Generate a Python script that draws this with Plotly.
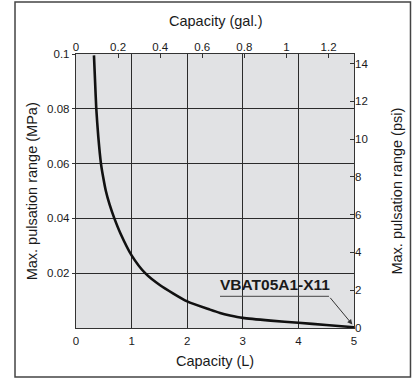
import plotly.graph_objects as go

# Data
capacity_l = [0.323, 0.343, 0.365, 0.40, 0.449, 0.489, 0.537, 0.605, 0.69, 0.80, 1.0,
              1.244, 1.513, 2.0, 2.41, 2.59, 2.77, 3.0, 3.5, 4.0, 4.5, 5.0]
pulsation_mpa = [0.0995, 0.09, 0.08, 0.07, 0.06, 0.055, 0.05, 0.045, 0.04, 0.0345, 0.0265,
                 0.02, 0.0156, 0.0097, 0.0067, 0.0055, 0.0046, 0.0037, 0.0027, 0.0019, 0.0011, 0.0003]

x_ticks_l = [0, 1, 2, 3, 4, 5]
x_ticks_gal = [0, 0.2, 0.4, 0.6, 0.8, 1.0, 1.2]
x_ticktext_gal = ["0", "0.2", "0.4", "0.6", "0.8", "1", "1.2"]
y_ticks_mpa = [0.02, 0.04, 0.06, 0.08, 0.1]
y_ticktext_mpa = ["0.02", "0.04", "0.06", "0.08", "0.1"]
y_ticks_psi = [0, 2, 4, 6, 8, 10, 12, 14]

L_PER_GAL = 3.785
PSI_PER_MPA = 145.04
X_MAX = 5
Y_MAX = 0.1

FONT = "Liberation Sans, Arial, Helvetica, sans-serif"
TXT = "#1a1a1a"
GRID = "#2b2b2b"

fig = go.Figure()
fig.add_trace(go.Scatter(
    x=capacity_l, y=pulsation_mpa, mode="lines",
    line=dict(color="#111111", width=2.6, shape="spline", smoothing=0.6),
    hoverinfo="skip", showlegend=False,
))
# invisible traces to activate secondary axes
fig.add_trace(go.Scatter(x=[0], y=[0], xaxis="x2", yaxis="y", mode="markers",
                         marker=dict(opacity=0), showlegend=False, hoverinfo="skip"))
fig.add_trace(go.Scatter(x=[0], y=[0], xaxis="x", yaxis="y2", mode="markers",
                         marker=dict(opacity=0), showlegend=False, hoverinfo="skip"))

tickfont = dict(family=FONT, size=11.5, color=TXT)

fig.update_layout(
    width=417, height=379,
    margin=dict(l=76, r=63, t=54, b=51),
    paper_bgcolor="white",
    plot_bgcolor="#e1e2e4",
    showlegend=False,
    xaxis=dict(
        range=[0, X_MAX], tickvals=x_ticks_l, ticks="", showgrid=True,
        gridcolor=GRID, gridwidth=1.2, zeroline=False,
        showline=True, linecolor="#333333", linewidth=1.4, mirror=True,
        tickfont=tickfont, ticklabelstandoff=2,
    ),
    xaxis2=dict(
        range=[0, X_MAX / L_PER_GAL], overlaying="x", side="top",
        tickvals=x_ticks_gal, ticktext=x_ticktext_gal,
        ticks="inside", ticklen=4, tickcolor="#333333", tickwidth=1,
        showgrid=False, zeroline=False, showline=False,
        tickfont=tickfont,
    ),
    yaxis=dict(
        range=[0, Y_MAX], tickvals=y_ticks_mpa, ticktext=y_ticktext_mpa,
        ticks="outside", ticklen=3, tickcolor="#333333",
        showgrid=True, gridcolor=GRID, gridwidth=1.2, zeroline=False,
        showline=True, linecolor="#333333", linewidth=1.4, mirror=True,
        tickfont=tickfont,
    ),
    yaxis2=dict(
        range=[0, Y_MAX * PSI_PER_MPA], overlaying="y", side="right",
        tickvals=y_ticks_psi, ticks="inside", ticklen=4, tickcolor="#333333",
        showgrid=False, zeroline=False, showline=False,
        tickfont=tickfont,
    ),
)

titlefont = dict(family=FONT, size=14.5, color=TXT)
# axis titles as annotations (paper coordinates)
fig.add_annotation(text="Capacity (L)", xref="paper", yref="paper", x=0.5, y=-0.12,
                   xanchor="center", yanchor="middle", showarrow=False, font=titlefont)
fig.add_annotation(text="Capacity (gal.)", xref="paper", yref="paper", x=0.5, y=1.12,
                   xanchor="center", yanchor="middle", showarrow=False, font=titlefont)
fig.add_annotation(text="Max. pulsation range (MPa)", xref="paper", yref="paper",
                   x=-0.157, y=0.5, xanchor="center", yanchor="middle",
                   textangle=-90, showarrow=False, font=titlefont)
fig.add_annotation(text="Max. pulsation range (psi)", xref="paper", yref="paper",
                   x=1.153, y=0.5, xanchor="center", yanchor="middle",
                   textangle=-90, showarrow=False, font=titlefont)

# model label with leader line and arrow
fig.add_annotation(text="<b>VBAT05A1-X11</b>", x=3.58, y=0.0158, xref="x", yref="y",
                   xanchor="center", yanchor="middle",
                   showarrow=False, font=dict(family=FONT, size=15.5, color=TXT))
fig.add_shape(type="line", xref="x", yref="y", x0=2.59, x1=4.55, y0=0.01157, y1=0.01157,
              line=dict(color="#444444", width=1))
fig.add_annotation(x=4.97, y=0.0013, ax=4.55, ay=0.01157, xref="x", yref="y",
                   axref="x", ayref="y", text="", showarrow=True, arrowhead=2,
                   arrowsize=1, arrowwidth=1, arrowcolor="#333333")

# outer frame around the whole figure
fig.add_shape(type="rect", xref="paper", yref="paper", x0=-0.2194, x1=1.2032,
              y0=-0.1788, y1=1.19, layer="above",
              line=dict(color="#444444", width=1.5),
              fillcolor="rgba(0,0,0,0)")

fig.write_html("out.html", config={"displayModeBar": False},
               post_script="document.body.style.margin='0';")
